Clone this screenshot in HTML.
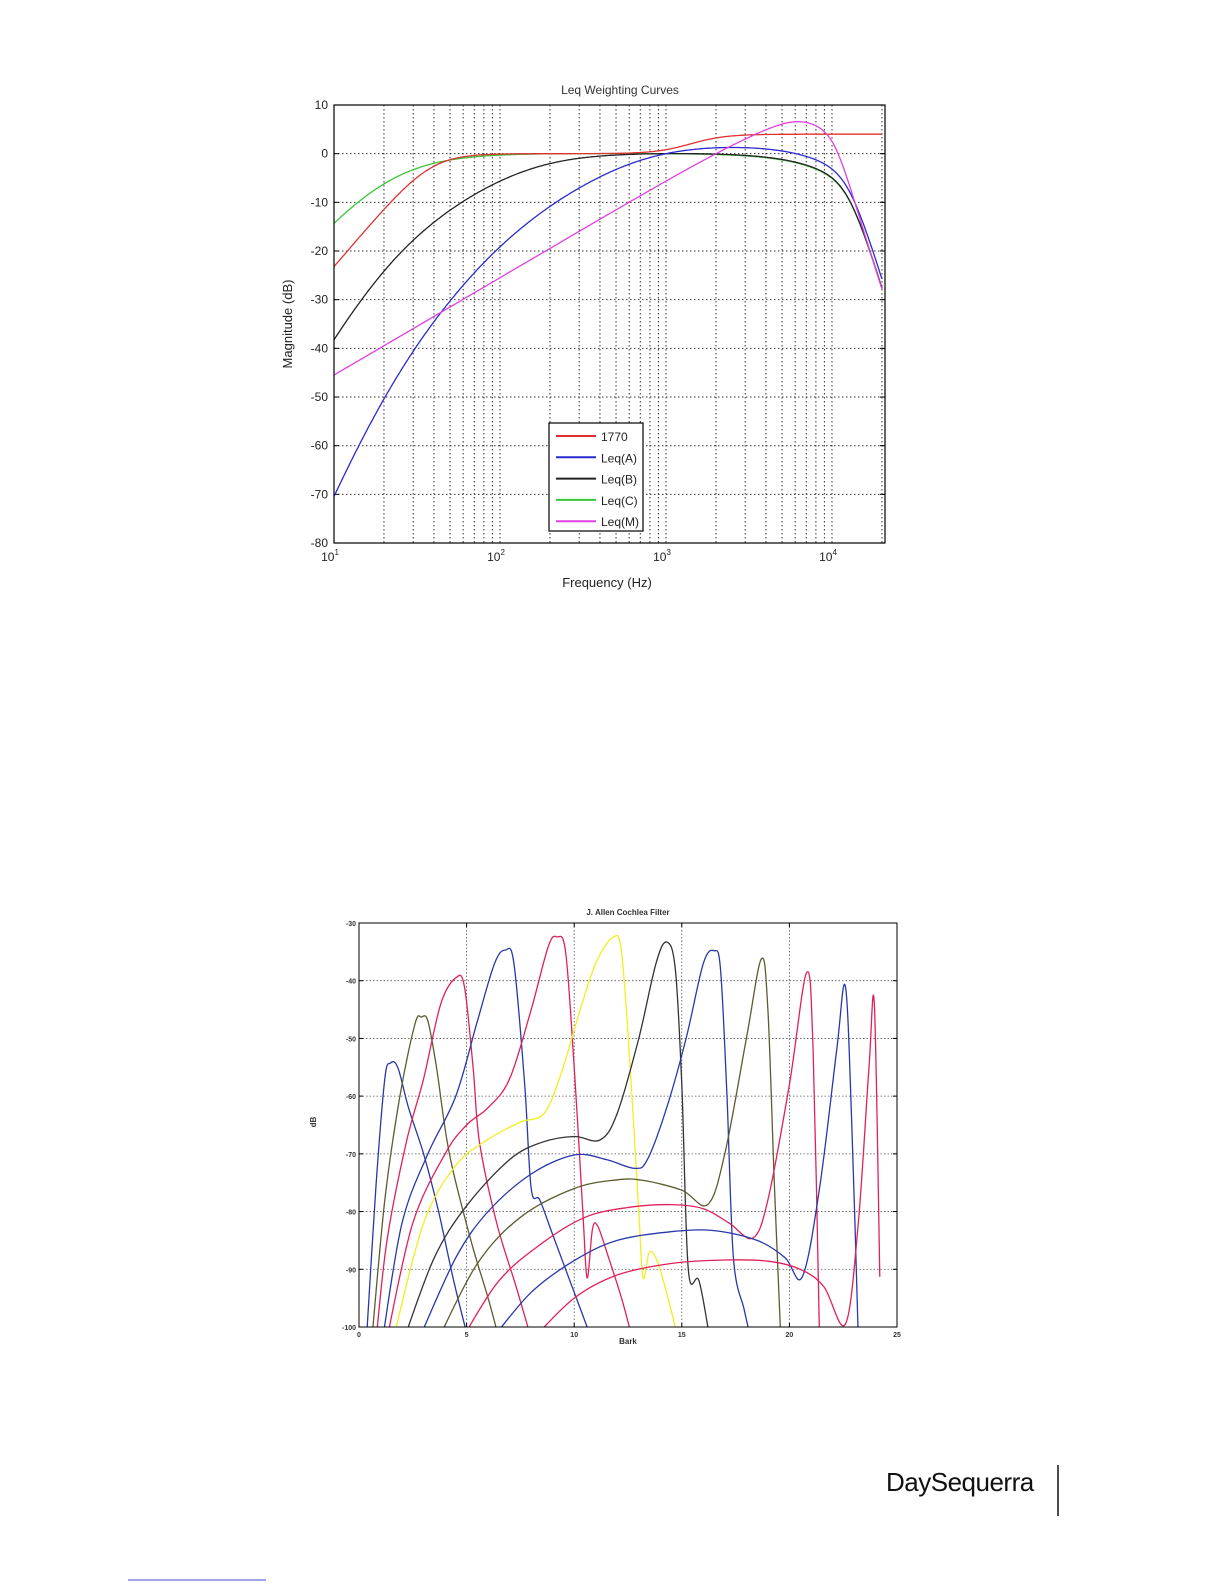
<!DOCTYPE html>
<html><head><meta charset="utf-8"><style>
html,body{margin:0;padding:0;background:#fff;}
svg{display:block;font-family:"Liberation Sans",sans-serif;}
</style></head><body>
<svg id="s" width="1225" height="1585" viewBox="0 0 1225 1585" xmlns="http://www.w3.org/2000/svg">
<defs>
<clipPath id="c1"><rect x="334" y="105" width="552" height="438"/></clipPath>
<clipPath id="c2"><rect x="359" y="923" width="538" height="404"/></clipPath>
</defs>
<rect width="1225" height="1585" fill="#fff"/>
<g id="gtop"></g>
<g id="gbot"></g>
<text x="620" y="94" font-size="12" text-anchor="middle" fill="#333">Leq Weighting Curves</text>
<text x="607" y="587" font-size="13" text-anchor="middle" fill="#222">Frequency (Hz)</text>
<text transform="translate(292,324) rotate(-90)" font-size="13" text-anchor="middle" fill="#222">Magnitude (dB)</text>
<g font-size="8" font-weight="bold" fill="#333" text-anchor="middle">
<text x="628" y="915">J. Allen Cochlea Filter</text>
<text x="628" y="1344">Bark</text>
<text transform="translate(316,1122) rotate(-90)">dB</text>
</g>
<g font-size="26" fill="#111"><text x="886" y="1491" letter-spacing="-0.5">DaySequerra</text></g>
<line x1="1058" y1="1465" x2="1058" y2="1516" stroke="#111" stroke-width="1.5"/>
<line x1="128" y1="1580" x2="266" y2="1580" stroke="#4050d0" stroke-width="1"/>
</svg>
<script>
(function(){
var NS="http://www.w3.org/2000/svg";
function el(p,t,a,txt){var e=document.createElementNS(NS,t);for(var k in a)e.setAttribute(k,a[k]);if(txt!=null)e.textContent=txt;p.appendChild(e);return e;}
var gTop=document.getElementById('gtop'),gBot=document.getElementById('gbot');
var L=334,R=885,T=105,B=543;
function X1(f){return L+(Math.log10(f)-1)*166;}
function Y1(d){return T+(10-d)*4.867;}
var g=el(gTop,'g',{stroke:'#333','stroke-width':1,'stroke-dasharray':'1.5,2.5'});
for(var dec=10;dec<=10000;dec*=10){for(var m=1;m<=9;m++){var f=dec*m;if(f<=10||f>20000)continue;var x=X1(f);el(g,'line',{x1:x,y1:T,x2:x,y2:B});}}
for(var d=0;d>-80;d-=10){el(g,'line',{x1:L,y1:Y1(d),x2:R,y2:Y1(d)});}
var lt=el(gTop,'g',{'font-size':12,fill:'#222'});
for(var d=10;d>=-80;d-=10){el(lt,'text',{x:L-6,y:Y1(d)+4,'text-anchor':'end'},String(d));
 el(gTop,'line',{x1:L,y1:Y1(d),x2:L+5,y2:Y1(d),stroke:'#000'});el(gTop,'line',{x1:R,y1:Y1(d),x2:R-5,y2:Y1(d),stroke:'#000'});}
[1,2,3,4].forEach(function(e){var x=X1(Math.pow(10,e));var t=el(lt,'text',{x:x-4,y:B+18,'text-anchor':'middle'},'10');el(t,'tspan',{dy:-6,'font-size':8},String(e));});
function db(x){return 20*Math.log10(x);}
function RA(f){var f2=f*f;return 12194*12194*f2*f2/((f2+20.6*20.6)*Math.sqrt((f2+107.7*107.7)*(f2+737.9*737.9))*(f2+12194*12194));}
function RB(f){var f2=f*f;return 12194*12194*f2*f/((f2+20.6*20.6)*Math.sqrt(f2+158.5*158.5)*(f2+12194*12194));}
function RC(f){var f2=f*f;return 12194*12194*f2/((f2+20.6*20.6)*(f2+12194*12194));}
function LP(f){var r=f/12500;return -10*Math.log10(1+Math.pow(r,8));}
function W468(f){var h1=-4.737338981378384e-24*Math.pow(f,6)+2.043828333606125e-15*Math.pow(f,4)-1.363894795463638e-7*f*f+1;
var h2=1.306612257412824e-19*Math.pow(f,5)-2.118150887518656e-11*Math.pow(f,3)+5.559488023498642e-4*f;
var r=1.246332637532143e-4*f/Math.sqrt(h1*h1+h2*h2);return 18.2+db(r);}
var curves=[
 ['#39c43a',function(f){return db(RC(f))+0.06+LP(f);}],
 ['#e03030',function(f){var r=f/38,r4=Math.pow(r,4);var hp=10*Math.log10(r4/(1+r4));var ff=Math.pow(f/1400,4);return hp+4*ff/(1+ff);}],
 ['#222',function(f){return db(RB(f))+0.17+LP(f);}],
 ['#2a2ad0',function(f){return db(RA(f))+2.0+LP(f);}],
 ['#e040e0',function(f){return W468(f)-5.6;}]
];
var cg=el(gTop,'g',{'clip-path':'url(#c1)',fill:'none','stroke-width':1.3});
curves.forEach(function(c){var p='';for(var i=0;i<=400;i++){var lf=1+i/400*(Math.log10(20000)-1);var f=Math.pow(10,lf);var v=c[1](f);p+=(i?'L':'M')+X1(f).toFixed(1)+','+Y1(Math.max(v,-90)).toFixed(1);}el(cg,'path',{d:p,stroke:c[0]});});
el(gTop,'rect',{x:L,y:T,width:R-L,height:B-T,fill:'none',stroke:'#000','stroke-width':1.2});
var lg=el(gTop,'g',{});
el(lg,'rect',{x:549,y:423,width:94,height:108,fill:'#fff',stroke:'#000','stroke-width':1.2});
[['#e03030','1770'],['#2a2ad0','Leq(A)'],['#222','Leq(B)'],['#39c43a','Leq(C)'],['#e040e0','Leq(M)']].forEach(function(a,i){var y=436+i*21.3;el(lg,'line',{x1:556,y1:y,x2:596,y2:y,stroke:a[0],'stroke-width':2});el(lg,'text',{x:601,y:y+5,'font-size':12,fill:'#222'},a[1]);});
var L2=359,R2=897,T2=923,B2=1327;
function X2(b){return L2+b*21.52;}
function Y2(d){return T2+(-30-d)*5.771;}
var g2=el(gBot,'g',{stroke:'#555','stroke-width':0.8,'stroke-dasharray':'1.5,2'});
[5,10,15,20].forEach(function(b){el(g2,'line',{x1:X2(b),y1:T2,x2:X2(b),y2:B2});});
for(var d=-40;d>-100;d-=10)el(g2,'line',{x1:L2,y1:Y2(d),x2:R2,y2:Y2(d)});
var lb=el(gBot,'g',{'font-size':7,'font-weight':'bold',fill:'#333'});
for(var d=-30;d>=-100;d-=10){el(lb,'text',{x:L2-3,y:Y2(d)+3,'text-anchor':'end'},String(d));el(gBot,'line',{x1:L2,y1:Y2(d),x2:L2+4,y2:Y2(d),stroke:'#000'});el(gBot,'line',{x1:R2,y1:Y2(d),x2:R2-4,y2:Y2(d),stroke:'#000'});}
for(var b=0;b<=25;b+=5){el(lb,'text',{x:X2(b),y:B2+10,'text-anchor':'middle'},String(b));el(gBot,'line',{x1:X2(b),y1:T2,x2:X2(b),y2:T2+4,stroke:'#000'});el(gBot,'line',{x1:X2(b),y1:B2,x2:X2(b),y2:B2-4,stroke:'#000'});}
function spline(pts){var P=pts.map(function(p){return [X2(p[0]),Y2(p[1])];});var d='M'+P[0][0].toFixed(1)+','+P[0][1].toFixed(1);
for(var i=0;i<P.length-1;i++){var p0=P[i-1]||P[i],p1=P[i],p2=P[i+1],p3=P[i+2]||P[i+1];var t=6;
d+='C'+(p1[0]+(p2[0]-p0[0])/t).toFixed(1)+','+(p1[1]+(p2[1]-p0[1])/t).toFixed(1)+' '+(p2[0]-(p3[0]-p1[0])/t).toFixed(1)+','+(p2[1]-(p3[1]-p1[1])/t).toFixed(1)+' '+p2[0].toFixed(1)+','+p2[1].toFixed(1);}return d;}
var BL='#2838a8',OL='#5c5c30',RD='#e0205a',YL='#f2ee20',BK='#333';
var F=[
 [BL,[[0.35,-102],[0.8,-75],[1.2,-57],[1.45,-54.3],[1.8,-55],[2.3,-62],[3,-70],[3.7,-80],[4.4,-92],[5,-101]]],
 [OL,[[0.6,-102],[1.2,-78],[1.9,-60],[2.6,-47.5],[2.9,-46.3],[3.2,-47],[3.6,-55],[4.2,-70],[5.2,-85],[6,-95],[6.5,-102]]],
 [RD,[[0.8,-102],[1.3,-85],[2.2,-68],[3,-57],[3.8,-44],[4.5,-39.5],[4.9,-41],[5.3,-55],[5.6,-68],[6.4,-82],[7.3,-93],[8,-102]]],
 [BL,[[1.1,-102],[2,-82],[3.2,-70],[4.5,-60],[5.5,-47],[6.3,-37],[6.8,-34.7],[7.2,-37],[7.7,-58],[8.0,-76],[8.4,-78],[9,-84],[10,-94],[10.8,-102]]],
 [RD,[[1.3,-102],[2.5,-82],[4,-70],[5,-65],[6,-62],[7,-57],[8,-45],[8.8,-34],[9.2,-32.4],[9.6,-35],[10,-55],[10.4,-80],[10.6,-91.5],[10.85,-83],[11.1,-82.6],[11.6,-88],[12.2,-95],[12.7,-102]]],
 [YL,[[1.6,-102],[3,-82],[4.5,-72],[6,-67.5],[7.5,-64.5],[8.6,-63],[9.4,-56],[10.2,-46],[11,-37],[11.8,-32.5],[12.2,-35],[12.6,-55],[13,-80],[13.2,-91.5],[13.5,-87],[13.9,-89],[14.5,-97],[14.8,-102]]],
 [BK,[[2.1,-102],[3.5,-88],[5,-79],[7,-71],[8.5,-68],[10,-67],[11.2,-67.6],[12,-63],[13,-50],[13.8,-37],[14.3,-33.3],[14.7,-38],[15.0,-58],[15.3,-90],[15.8,-92],[16.3,-102]]],
 [BL,[[2.8,-102],[4.5,-88],[6,-80],[8,-73.5],[10,-70.2],[11.5,-71],[12.8,-72.5],[13.4,-71],[14.3,-62],[15.2,-50],[16,-37],[16.5,-34.8],[16.8,-38],[17.1,-60],[17.4,-88],[17.9,-97],[18.2,-102]]],
 [OL,[[3.7,-102],[5.5,-89],[7.5,-81],[10,-76],[12,-74.5],[13.2,-74.6],[15,-76.3],[16.2,-78.8],[17,-70],[18,-50],[18.7,-36.2],[19.0,-45],[19.3,-75],[19.6,-102]]],
 [RD,[[4.8,-102],[6.5,-92],[8.5,-85.5],[10.5,-81],[12.5,-79.3],[14.5,-78.8],[16,-79.5],[17.2,-82],[18.3,-84.6],[19,-78],[20,-58],[20.8,-38.6],[21.1,-52],[21.4,-102]]],
 [BL,[[6.2,-102],[8,-94],[10,-88.5],[12,-85],[14.5,-83.5],[16.5,-83.3],[18.5,-85],[19.8,-88],[20.6,-91.3],[21.4,-76],[22.2,-52],[22.6,-41],[22.9,-65],[23.2,-102]]],
 [RD,[[8.1,-102],[10,-95],[12,-91],[14.5,-89],[17,-88.4],[19,-88.6],[20.5,-90],[21.6,-93],[22.6,-99.5],[23.2,-82],[23.7,-55],[23.95,-44.3],[24.2,-91.3]]]
];
var fg=el(gBot,'g',{'clip-path':'url(#c2)',fill:'none','stroke-width':1.3,'stroke-linejoin':'round'});
F.forEach(function(c){el(fg,'path',{d:spline(c[1]),stroke:c[0]});});
el(gBot,'rect',{x:L2,y:T2,width:R2-L2,height:B2-T2,fill:'none',stroke:'#000','stroke-width':1});
})();
</script>
</body></html>
